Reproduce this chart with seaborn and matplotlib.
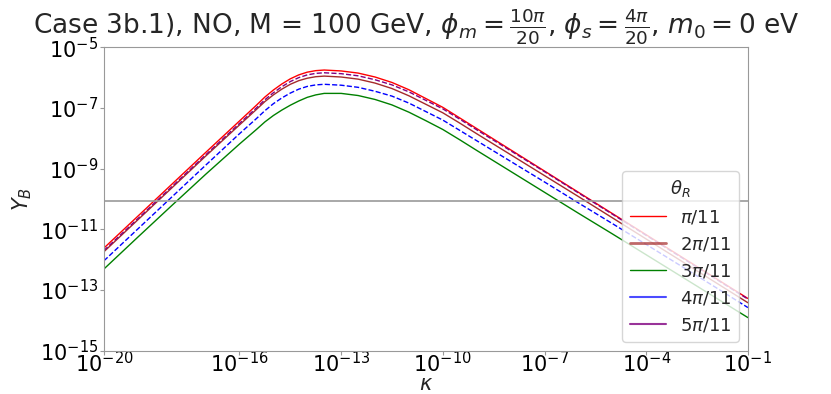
import matplotlib
matplotlib.use("Agg")
import matplotlib.pyplot as plt
from matplotlib.lines import Line2D
import seaborn as sns
import pandas as pd
import numpy as np

# log10(kappa) grid
log_kappa = [-20, -19, -18, -17, -16, -15.5, -15.25, -15, -14.75, -14.5, -14.25, -14, -13.75,
             -13.5, -13, -12.5, -12, -11.5, -11, -10.5, -10, -9.5, -9, -8, -7, -6, -5, -4,
             -3, -2, -1]

# log10(Y_B) for each theta_R
logY_pi11 = [-11.62, -10.57, -9.52, -8.47, -7.43, -6.91, -6.64, -6.41, -6.21, -6.04, -5.91,
             -5.82, -5.77, -5.75, -5.78, -5.85, -5.98, -6.16, -6.40, -6.69, -6.98, -7.33,
             -7.68, -8.38, -9.08, -9.78, -10.48, -11.18, -11.88, -12.58, -13.28]
logY_2pi11 = [-11.74, -10.69, -9.64, -8.59, -7.56, -7.05, -6.79, -6.57, -6.38, -6.22, -6.10,
              -6.02, -5.97, -5.95, -5.98, -6.05, -6.18, -6.36, -6.60, -6.88, -7.16, -7.50,
              -7.85, -8.54, -9.23, -9.92, -10.62, -11.32, -12.02, -12.72, -13.42]
logY_3pi11 = [-12.31, -11.26, -10.22, -9.19, -8.19, -7.71, -7.46, -7.25, -7.07, -6.91, -6.77,
              -6.65, -6.57, -6.52, -6.52, -6.59, -6.72, -6.90, -7.14, -7.42, -7.71, -8.05,
              -8.40, -9.09, -9.78, -10.47, -11.15, -11.84, -12.53, -13.22, -13.91]
logY_4pi11 = [-12.04, -10.99, -9.94, -8.89, -7.85, -7.35, -7.09, -6.86, -6.67, -6.51, -6.38,
              -6.29, -6.24, -6.22, -6.25, -6.32, -6.45, -6.61, -6.84, -7.12, -7.40, -7.74,
              -8.08, -8.76, -9.44, -10.13, -10.81, -11.50, -12.19, -12.88, -13.58]
logY_5pi11 = [-11.70, -10.65, -9.60, -8.55, -7.51, -7.00, -6.73, -6.50, -6.30, -6.13, -6.00,
              -5.91, -5.86, -5.84, -5.87, -5.94, -6.07, -6.24, -6.47, -6.75, -7.03, -7.37,
              -7.72, -8.41, -9.10, -9.80, -10.50, -11.20, -11.90, -12.60, -13.30]

labels = [r'$\pi/11$', r'$2\pi/11$', r'$3\pi/11$', r'$4\pi/11$', r'$5\pi/11$']
series = [logY_pi11, logY_2pi11, logY_3pi11, logY_4pi11, logY_5pi11]
colors = ['red', 'brown', 'green', 'blue', 'purple']
styles = ['-', '-', '-', '--', '--']

Y_obs = 8.7e-11
xticks = [1e-20, 1e-16, 1e-13, 1e-10, 1e-7, 1e-4, 1e-1]
yticks = [1e-15, 1e-13, 1e-11, 1e-9, 1e-7, 1e-5]

sns.set_style("ticks", {"axes.edgecolor": "0.6", "xtick.color": "0.6", "ytick.color": "0.6"})
plt.rcParams['font.family'] = ['DejaVu Sans']

fig, ax = plt.subplots(figsize=(8.31, 3.94), dpi=100)

kappa = 10.0 ** np.array(log_kappa)
for lab, vals, c, ls in zip(labels, series, colors, styles):
    df = pd.DataFrame({'kappa': kappa, 'YB': 10.0 ** np.array(vals)})
    sns.lineplot(data=df, x='kappa', y='YB', ax=ax, color=c, linestyle=ls,
                 linewidth=1.0, estimator=None, sort=False)

# observed baryon asymmetry
ax.axhline(Y_obs, color='0.6', linewidth=1.2)

ax.set_xscale('log')
ax.set_yscale('log')
ax.set_xlim(1e-20, 1e-1)
ax.set_ylim(1e-15, 1e-5)
ax.set_xticks(xticks)
ax.set_yticks(yticks)
ax.minorticks_off()
ax.tick_params(labelsize=15, labelcolor='black', length=3)
ax.tick_params(axis='x', pad=-3)
ax.tick_params(axis='y', pad=1)

ax.set_xlabel(r'$\kappa$', fontsize=15, labelpad=-1)
ax.set_ylabel(r'$Y_B$', fontsize=15)
ax.set_title(r'Case 3b.1), NO, M = 100 GeV, $\phi_m = \frac{10\pi}{20}$, '
             r'$\phi_s = \frac{4\pi}{20}$, $m_0 = 0$ eV', fontsize=19, x=0.485)

handles = [Line2D([], [], color='red', lw=1.0),
           Line2D([], [], color='brown', lw=2.0, alpha=0.7),
           Line2D([], [], color='green', lw=1.0),
           Line2D([], [], color='blue', lw=1.5, alpha=0.7),
           Line2D([], [], color='purple', lw=1.5, alpha=0.8)]
ax.legend(handles, labels, title=r'$\theta_R$', loc='lower right',
          fontsize=13, title_fontsize=13)

fig.savefig('out.png', dpi=100)
